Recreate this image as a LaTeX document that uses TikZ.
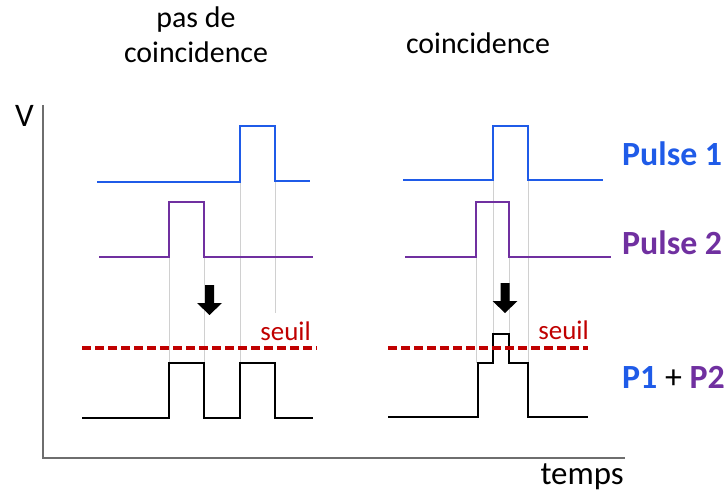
\documentclass[tikz,border=0pt]{standalone}
\usepackage{fontspec}
\setmainfont{Carlito}
\definecolor{pblue}{HTML}{1F5BE8}
\definecolor{ppurple}{HTML}{7030A0}
\definecolor{pred}{HTML}{C00000}
\definecolor{pgray}{HTML}{D0D0D0}
\definecolor{axgray}{HTML}{6E6E6E}
\tikzset{
  sig/.style={line width=2.8bp, line join=miter},
  guide/.style={pgray, line width=1bp},
  thresh/.style={pred, line width=3.2bp, dash pattern=on 9bp off 4bp},
  axisline/.style={axgray, line width=1.4bp},
  title/.style={inner sep=0pt, font=\fontsize{30}{36}\selectfont},
  lab/.style={inner sep=0pt, font=\fontsize{34}{38}\selectfont\bfseries},
  seuiltxt/.style={inner sep=0pt, text=pred, font=\fontsize{27}{32}\selectfont},
  downarrow/.pic={\fill[black] (-4.5,0) -- (4.5,0) -- (4.5,18) -- (12.5,18) -- (0,30) -- (-12.5,18) -- (-4.5,18) -- cycle;}
}
\begin{document}
\begin{tikzpicture}[x=1bp,y=-1bp]
\useasboundingbox (0,0) rectangle (724,492);
% axes
\draw[axisline] (43,105) -- (43,458) -- (625,458);
\node[anchor=base west, inner sep=0pt, font=\fontsize{33}{38}\selectfont] (V) at (15,127) {V};
\node[anchor=base east, inner sep=0pt, font=\fontsize{33}{38}\selectfont] (temps) at (624,484) {temps};
% titles
\node[title, anchor=base] (t1a) at (196,28) {pas de};
\node[title, anchor=base] (t1b) at (196,63) {coincidence};
\node[title, anchor=base] (t2) at (478,54) {coincidence};
% guides left
\draw[guide] (169,257) -- (169,363);
\draw[guide] (204,257) -- (204,363);
\draw[guide] (240,182) -- (240,363);
\draw[guide] (275,180) -- (275,313);
% guides right
\draw[guide] (476,257) -- (476,363);
\draw[guide] (493,180) -- (493,334);
\draw[guide] (509,257) -- (509,334);
\draw[guide] (528,180) -- (528,363);
% left signals
\draw[sig, pblue] (97,182) -- (240,182) -- (240,126) -- (275,126) -- (275,181) -- (310,181);
\draw[sig, ppurple] (99,257) -- (169,257) -- (169,202) -- (204,202) -- (204,257) -- (313,257);
\draw[sig, black] (82,418) -- (169,418) -- (169,363) -- (204,363) -- (204,418) -- (240,418) -- (240,363) -- (275,363) -- (275,418) -- (313,418);
\draw[thresh] (82,348) -- (317,348);
\pic at (209.5,285) {downarrow};
\node[seuiltxt, anchor=base east] (s1) at (311,340) {seuil};
% right signals
\draw[sig, pblue] (403,180) -- (493,180) -- (493,126) -- (528,126) -- (528,180) -- (603,180);
\draw[sig, ppurple] (405,257) -- (476,257) -- (476,202) -- (509,202) -- (509,257) -- (611,257);
\draw[sig, black] (388,417) -- (478,417) -- (478,363) -- (493,363) -- (493,334) -- (509,334) -- (509,363) -- (528,363) -- (528,417) -- (588,417);
\draw[thresh] (388,348) -- (588,348);
\pic at (505,283) {downarrow};
\node[seuiltxt, anchor=base east] (s2) at (589,339) {seuil};
% labels
\node[lab, text=pblue, anchor=base west] (p1) at (622,166) {Pulse 1};
\node[lab, text=ppurple, anchor=base west] (p2) at (622,255) {Pulse 2};
\node[lab, anchor=base west] (p12) at (622,388) {{\color{pblue}P1} {\mdseries\color{black}+} {\color{ppurple}P2}};
\end{tikzpicture}
\end{document}
